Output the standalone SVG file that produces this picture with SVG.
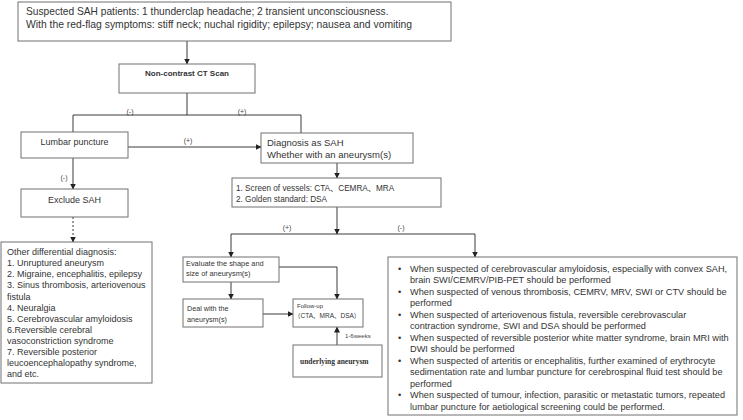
<svg xmlns="http://www.w3.org/2000/svg" width="743" height="420" viewBox="0 0 743 420">
<defs>
<marker id="ah" markerWidth="6" markerHeight="6" refX="5.5" refY="3" orient="auto" markerUnits="userSpaceOnUse"><path d="M0,0 L6,3 L0,6 z" fill="#222"/></marker>
<style>
.box{fill:#fff;stroke:#707070;stroke-width:1}
.ln{fill:none;stroke:#3a3a3a;stroke-width:1}
.t{font-family:"Liberation Sans",Arial,sans-serif;fill:#333}
.lbl{font-family:"Liberation Sans",Arial,sans-serif;fill:#444;font-size:7px}
</style>
</defs>
<rect width="743" height="420" fill="#fff"/>
<g id="connectors">
<path class="ln" d="M187,41 V64" marker-end="url(#ah)"/>
<path class="ln" d="M187,93 V115 M73,132 V115 H301 V133"/>
<path class="ln" d="M128,147 H261" marker-end="url(#ah)"/>
<path class="ln" d="M73,158 V189" marker-end="url(#ah)"/>
<path class="ln" d="M73,217 V242" stroke-dasharray="2,2" marker-end="url(#ah)"/>
<path class="ln" d="M337,163 V178" marker-end="url(#ah)"/>
<path class="ln" d="M337,207 V234" marker-end="url(#ah)"/>
<path class="ln" d="M337,234 H231 V257" marker-end="url(#ah)"/>
<path class="ln" d="M337,234 H475 V257" marker-end="url(#ah)"/>
<path class="ln" d="M231,282 V299" marker-end="url(#ah)"/>
<path class="ln" d="M279,267 H337 V299" marker-end="url(#ah)"/>
<path class="ln" d="M263,314 H293" marker-end="url(#ah)"/>
<path class="ln" d="M337,345 V327" marker-end="url(#ah)"/>
<text class="lbl" x="130" y="114" text-anchor="middle">(-)</text>
<text class="lbl" x="242" y="114" text-anchor="middle">(+)</text>
<text class="lbl" x="188" y="143" text-anchor="middle">(+)</text>
<text class="lbl" x="64" y="180" text-anchor="middle">(-)</text>
<text class="lbl" x="287" y="230" text-anchor="middle">(+)</text>
<text class="lbl" x="401" y="230" text-anchor="middle">(-)</text>
<text class="lbl" x="345" y="338" style="font-size:6px">1-6weeks</text>
</g>
<g id="n-top">
<rect class="box" x="18" y="2" width="433" height="39"/>
<text class="t" x="26" y="15" font-size="10.2">Suspected SAH patients: 1 thunderclap headache; 2 transient unconsciousness.</text>
<text class="t" x="26" y="28" font-size="10.2" textLength="386" lengthAdjust="spacingAndGlyphs">With the red-flag symptoms: stiff neck; nuchal rigidity; epilepsy; nausea and vomiting</text>
</g>
<g id="n-ct">
<rect class="box" x="119" y="64" width="136" height="29"/>
<text class="t" x="187" y="76" font-size="8" font-weight="bold" text-anchor="middle">Non-contrast CT Scan</text>
</g>
<g id="n-lumbar">
<rect class="box" x="21" y="132" width="107" height="26"/>
<text class="t" x="74.5" y="145" font-size="9" text-anchor="middle">Lumbar puncture</text>
</g>
<g id="n-exclude">
<rect class="box" x="21" y="189" width="107" height="28"/>
<text class="t" x="74.5" y="203" font-size="9" text-anchor="middle">Exclude SAH</text>
</g>
<g id="n-other">
<rect class="box" x="1" y="242" width="151" height="141"/>
<text class="t" font-size="9">
<tspan x="7" y="255">Other differential diagnosis:</tspan>
<tspan x="7" y="266">1. Unruptured aneurysm</tspan>
<tspan x="7" y="277">2. Migraine, encephalitis, epilepsy</tspan>
<tspan x="7" y="288">3. Sinus thrombosis, arteriovenous</tspan>
<tspan x="7" y="300">fistula</tspan>
<tspan x="7" y="311">4. Neuralgia</tspan>
<tspan x="7" y="322">5. Cerebrovascular amyloidosis</tspan>
<tspan x="7" y="333">6.Reversible cerebral</tspan>
<tspan x="7" y="344">vasoconstriction syndrome</tspan>
<tspan x="7" y="355">7. Reversible posterior</tspan>
<tspan x="7" y="366">leucoencephalopathy syndrome,</tspan>
<tspan x="7" y="377">and etc.</tspan>
</text>
</g>
<g id="n-diag">
<rect class="box" x="261" y="133" width="152" height="30"/>
<text class="t" x="267" y="146" font-size="9.5">Diagnosis as SAH</text>
<text class="t" x="267" y="158" font-size="9.5">Whether with an aneurysm(s)</text>
</g>
<g id="n-screen">
<rect class="box" x="232" y="178" width="209" height="29"/>
<text class="t" x="236" y="191" font-size="8.2" style="font-family:'Liberation Sans','Noto Sans CJK SC',sans-serif">1. Screen of vessels: CTA、CEMRA、MRA</text>
<text class="t" x="236" y="202" font-size="8.2">2. Golden standard: DSA</text>
</g>
<g id="n-eval">
<rect class="box" x="183" y="257" width="96" height="25"/>
<text class="t" x="186" y="266" font-size="7.4">Evaluate the shape and</text>
<text class="t" x="186" y="276" font-size="7.4">size of aneurysm(s)</text>
</g>
<g id="n-deal">
<rect class="box" x="183" y="299" width="80" height="28"/>
<text class="t" x="187" y="311" font-size="7.2">Deal with the</text>
<text class="t" x="187" y="322" font-size="7.2">aneurysm(s)</text>
</g>
<g id="n-follow">
<rect class="box" x="293" y="299" width="70" height="28"/>
<text class="t" x="297" y="308" font-size="6">Follow-up</text>
<text class="t" x="294" y="318" font-size="6.5" style="font-family:'Liberation Sans','Noto Sans CJK SC',sans-serif">（CTA、MRA、DSA）</text>
</g>
<g id="n-under">
<rect class="box" x="293" y="345" width="89" height="32"/>
<text x="300" y="364" font-size="7.5" font-weight="bold" fill="#333" style="font-family:'Liberation Serif',serif">underlying aneurysm</text>
</g>
<g id="n-bullets">
<rect class="box" x="388" y="257" width="349" height="158"/>
<g class="t" font-size="9.2">
<text x="398" y="271.5">•</text>
<text x="410" y="271.5">When suspected of cerebrovascular amyloidosis, especially with convex SAH,</text>
<text x="410" y="283">brain SWI/CEMRV/PIB-PET should be performed</text>
<text x="398" y="294.5">•</text>
<text x="410" y="294.5">When suspected of venous thrombosis, CEMRV, MRV, SWI or CTV should be</text>
<text x="410" y="306">performed</text>
<text x="398" y="317.5">•</text>
<text x="410" y="317.5">When suspected of arteriovenous fistula, reversible cerebrovascular</text>
<text x="410" y="329">contraction syndrome, SWI and DSA should be performed</text>
<text x="398" y="340.5">•</text>
<text x="410" y="340.5">When suspected of reversible posterior white matter syndrome, brain MRI with</text>
<text x="410" y="352">DWI should be performed</text>
<text x="398" y="363.5">•</text>
<text x="410" y="363.5">When suspected of arteritis or encephalitis, further examined of erythrocyte</text>
<text x="410" y="375">sedimentation rate and lumbar puncture for cerebrospinal fluid test should be</text>
<text x="410" y="386.5">performed</text>
<text x="398" y="398">•</text>
<text x="410" y="398">When suspected of tumour, infection, parasitic or metastatic tumors, repeated</text>
<text x="410" y="409.5">lumbar puncture for aetiological screening could be performed.</text>
</g>
</g>
</svg>
